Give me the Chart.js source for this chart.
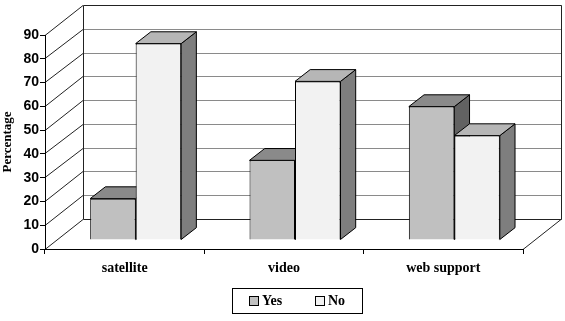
<!DOCTYPE html>
<html><head><meta charset="utf-8">
<script src="https://cdn.jsdelivr.net/npm/chart.js@4/dist/chart.umd.min.js"></script>
<style>html,body{margin:0;padding:0;background:#fff;overflow:hidden}</style>
</head><body>
<canvas id="c" width="565" height="321"></canvas>
<script>
// ---- data ----
const categories = ['satellite', 'video', 'web support'];
const seriesNames = ['Yes', 'No'];
const yesValues = [17.4, 33.5, 56.1];
const noValues = [82.6, 66.7, 43.9];
const yAxisTitle = 'Percentage';
const yMin = 0, yMax = 90, yStep = 10;

// ---- style ----
const FRONT = ['#c0c0c0', '#f2f2f2'];
const TOP = ['#8a8a8a', '#b6b6b6'];
const SIDE = ['#626262', '#7e7e7e'];
const DEPTH_X = 38, DEPTH_Y = -29.5;   // full floor depth
const BAR_FRONT = 0.29, BAR_DEPTH = 0.40;
const SERIF = "'Liberation Serif', 'Times New Roman', serif";
const SANS = "'Liberation Sans', Arial, sans-serif";

function seg(ctx, x1, y1, x2, y2) {
  ctx.beginPath(); ctx.moveTo(x1, y1); ctx.lineTo(x2, y2); ctx.stroke();
}
function poly(ctx, pts, fill) {
  ctx.beginPath(); ctx.moveTo(pts[0][0], pts[0][1]);
  for (let i = 1; i < pts.length; i++) ctx.lineTo(pts[i][0], pts[i][1]);
  ctx.closePath(); ctx.fillStyle = fill; ctx.fill(); ctx.stroke();
}
const r5 = v => Math.round(v - 0.5) + 0.5;

const threeD = {
  id: 'threeD',
  beforeDraw(chart) {
    const { ctx, chartArea: a, scales: { y } } = chart;
    ctx.save();
    ctx.fillStyle = '#fff'; ctx.fillRect(0, 0, chart.width, chart.height);
    const L = a.left, R = a.right;
    const T = y.getPixelForValue(yMax), B = y.getPixelForValue(yMin);
    const dx = DEPTH_X, dy = DEPTH_Y;
    ctx.lineWidth = 1;
    ctx.strokeStyle = '#8a8a8a';
    y.ticks.forEach(t => {
      const py = y.getPixelForValue(t.value);
      seg(ctx, r5(L + dx), r5(py + dy), r5(R + dx), r5(py + dy));
    });
    ctx.strokeStyle = '#222';
    y.ticks.forEach(t => {
      const py = y.getPixelForValue(t.value);
      seg(ctx, L, r5(py), L + dx, r5(py + dy));
    });
    seg(ctx, r5(L + dx), r5(T + dy), r5(L + dx), r5(B + dy));
    seg(ctx, r5(R + dx), r5(T + dy), r5(R + dx), r5(B + dy));
    seg(ctx, r5(L + dx), r5(T + dy), r5(R + dx), r5(T + dy));
    seg(ctx, r5(L + dx), r5(B + dy), r5(R + dx), r5(B + dy));
    seg(ctx, R, r5(B), R + dx, r5(B + dy));
    ctx.restore();
  },
  beforeDatasetsDraw(chart) {
    const ctx = chart.ctx;
    const ox = Math.round(BAR_FRONT * DEPTH_X), oy = Math.round(BAR_FRONT * DEPTH_Y);
    const bdx = BAR_DEPTH * DEPTH_X, bdy = BAR_DEPTH * DEPTH_Y;
    ctx.save();
    ctx.translate(ox, oy);
    ctx.lineWidth = 1; ctx.strokeStyle = '#000';
    chart.data.datasets.forEach((ds, i) => {
      const meta = chart.getDatasetMeta(i);
      meta.data.forEach(bar => {
        const p = bar.getProps(['x', 'y', 'base', 'width'], true);
        const l = p.x - p.width / 2, r = p.x + p.width / 2, top = p.y, base = p.base;
        poly(ctx, [[r, top], [r + bdx, top + bdy], [r + bdx, base + bdy], [r, base]], SIDE[i]);
        poly(ctx, [[l, top], [r, top], [r + bdx, top + bdy], [l + bdx, top + bdy]], TOP[i]);
      });
    });
  },
  afterDatasetsDraw(chart) {
    chart.ctx.restore();
  },
  afterDraw(chart) {
    const ctx = chart.ctx;
    ctx.save();
    const bx = 232, by = 288, bw = 130, bh = 25;
    ctx.lineWidth = 1; ctx.strokeStyle = '#000';
    ctx.strokeRect(bx + 0.5, by + 0.5, bw, bh);
    const itemX = [249, 315];
    ctx.font = 'bold 14px ' + SERIF;
    ctx.textBaseline = 'middle';
    chart.data.datasets.forEach((ds, k) => {
      ctx.fillStyle = ds.backgroundColor;
      ctx.fillRect(itemX[k] + 0.5, 296.5, 9, 9);
      ctx.strokeRect(itemX[k] + 0.5, 296.5, 9, 9);
      ctx.fillStyle = '#000';
      ctx.fillText(ds.label, itemX[k] + 13, 301.5);
    });
    ctx.restore();
  }
};

new Chart(document.getElementById('c'), {
  type: 'bar',
  data: {
    labels: categories,
    datasets: [
      { label: seriesNames[0], data: yesValues, backgroundColor: FRONT[0] },
      { label: seriesNames[1], data: noValues, backgroundColor: FRONT[1] }
    ]
  },
  options: {
    responsive: false,
    animation: false,
    devicePixelRatio: 1,
    layout: { padding: { top: 35, right: 42, left: 0, bottom: 42 } },
    datasets: { bar: { borderColor: '#000', borderWidth: 1, categoryPercentage: 0.571, barPercentage: 1, clip: false } },
    plugins: { legend: { display: false }, tooltip: { enabled: false } },
    scales: {
      x: {
        afterFit(s) { s.height = 30; },
        grid: { offset: true, drawOnChartArea: false, drawTicks: true, tickLength: 5, color: '#000' },
        border: { display: true, color: '#000' },
        ticks: { color: '#000', padding: 6, maxRotation: 0, font: { family: SERIF, size: 14, weight: 'bold' } }
      },
      y: {
        min: yMin, max: yMax,
        afterFit(s) { s.width = 45; },
        grid: { drawOnChartArea: false, drawTicks: true, tickLength: 5, color: '#000' },
        border: { display: true, color: '#000' },
        ticks: { stepSize: yStep, color: '#000', padding: 1, font: { family: SANS, size: 14, weight: 'bold' } },
        title: { display: true, text: yAxisTitle, color: '#000', padding: 0, font: { family: SERIF, size: 13, weight: 'bold' } }
      }
    }
  },
  plugins: [threeD]
});
</script>
</body></html>
